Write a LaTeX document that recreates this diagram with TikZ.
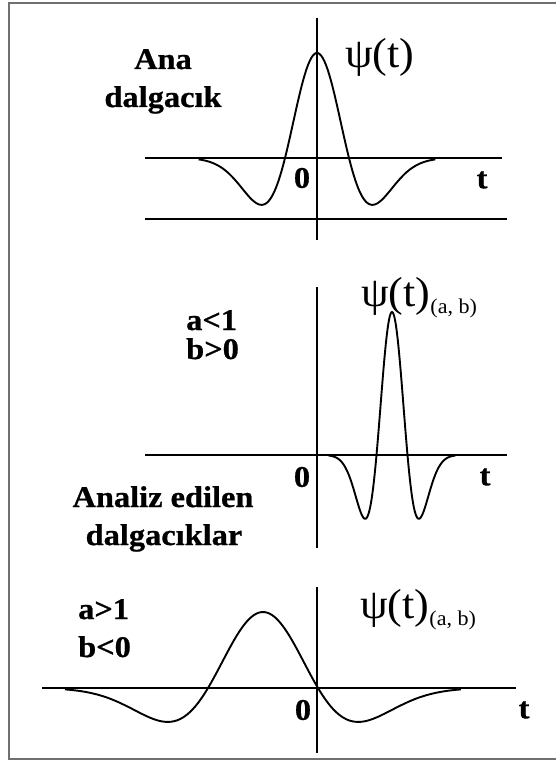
\documentclass[tikz,border=0pt]{standalone}
\usepackage{fontspec}
\setmainfont{Liberation Serif}
\newfontfamily\etiketfont[FakeStretch=1.08, FakeBold=0.8]{Liberation Serif}
\newfontfamily\psifont[FakeStretch=1.05]{Liberation Serif}
\usepackage{xcolor}
\definecolor{cercevegri}{HTML}{707070}
\newcommand\altindis[1]{\raisebox{-7pt}{\fontsize{21}{21}\selectfont #1}}

\begin{document}
\begin{tikzpicture}[x=1pt, y=-1pt,
  declare function={mh(\t)=(1-\t*\t)*exp(-\t*\t/2);},
  eksen/.style={line width=1.8pt},
  dalga/.style={line width=1.9pt, smooth, samples=150, line join=round},
  etiket/.style={font=\etiketfont\bfseries\fontsize{30}{35}\selectfont, inner sep=0pt},
  psi/.style={font=\psifont\fontsize{42}{42}\selectfont, inner sep=0pt, anchor=base west}
]
\useasboundingbox (0,0) rectangle (556,762);
\draw[cercevegri, line width=1.8pt] (9,3) rectangle (600,759);

% ana dalgacik
\draw[eksen] (145,158) -- (502,158);
\draw[eksen] (145,219) -- (507,219);
\draw[eksen] (317,18) -- (317,240);
\draw[dalga] plot[domain=-3.7:3.7] ({317+32*\x},{158-105*mh(\x)});
\node[etiket, anchor=base] (ana) at (163,69) {Ana};
\node[etiket, anchor=base] (dalgacik) at (163,107) {dalgacık};
\node[psi] (psiust) at (345,68) {ψ(t)};
\node[etiket] (sifirust) at (302,178) {0};
\node[etiket] (tust) at (482,180) {t};

% a<1, b>0
\draw[eksen] (145,455) -- (507,455);
\draw[eksen] (317,287) -- (317,548);
\draw[dalga] plot[domain=-4.1:4.1] ({392+15.5*\x},{455-143*mh(\x)});
\node[etiket, anchor=base west] (akucuk) at (186,330) {a<1};
\node[etiket, anchor=base west] (bbuyuk) at (186,359) {b>0};
\node[psi] (psiorta) at (361,306) {ψ(t)\altindis{(a, b)}};
\node[etiket] (sifirorta) at (302,477) {0};
\node[etiket] (torta) at (485,477) {t};
\node[etiket, anchor=base] (analiz) at (163,507) {Analiz edilen};
\node[etiket, anchor=base] (dalgaciklar) at (164,545) {dalgacıklar};

% a>1, b<0
\draw[eksen] (42,688) -- (516,688);
\draw[eksen] (317,587) -- (317,753);
\draw[dalga] plot[domain=-3.6:3.6] ({263+55*\x},{688-76*mh(\x)});
\node[etiket, anchor=base west] (abuyuk) at (78,619) {a>1};
\node[etiket, anchor=base west] (bkucuk) at (78,657) {b<0};
\node[psi] (psialt) at (360,618) {ψ(t)\altindis{(a, b)}};
\node[etiket] (sifiralt) at (303,710) {0};
\node[etiket] (talt) at (524,710) {t};
\end{tikzpicture}
\end{document}
